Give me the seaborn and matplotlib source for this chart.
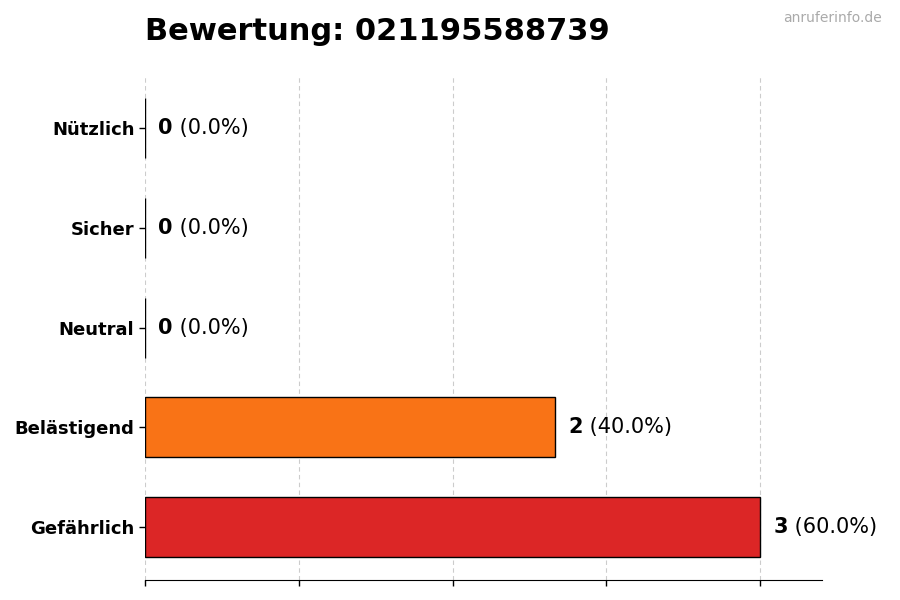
import pandas as pd
import seaborn as sns
import matplotlib.pyplot as plt

categories = ['Nützlich', 'Sicher', 'Neutral', 'Belästigend', 'Gefährlich']
counts = [0, 0, 0, 2, 3]
colors = ['#22c55e', '#3b82f6', '#9ca3af', '#f97316', '#dc2626']
title = 'Bewertung: 021195588739'

total = sum(counts)
df = pd.DataFrame({'kategorie': categories, 'anzahl': counts})

sns.set_style('ticks')
plt.rcParams['font.family'] = ['DejaVu Sans']
plt.rcParams['text.color'] = 'black'
plt.rcParams['xtick.color'] = 'black'
plt.rcParams['ytick.color'] = 'black'

fig = plt.figure(figsize=(9, 6), dpi=100)
ax = fig.add_axes([0.161, 0.033, 0.752, 0.842])

sns.barplot(data=df, x='anzahl', y='kategorie', hue='kategorie', palette=colors,
            orient='h', width=0.6, edgecolor='black', linewidth=1, legend=False,
            saturation=1, ax=ax)

xmax = max(counts) * 1.1
ax.set_xlim(0, xmax)
ax.set_ylim(len(categories) - 0.47, -0.53)
ax.set_xticks([max(counts) * i / 4 for i in range(5)])
ax.set_xticklabels([])
ax.set_xlabel('')
ax.set_ylabel('')
ax.tick_params(axis='both', length=4, width=1, color='black', labelcolor='black')
ax.tick_params(axis='y', labelsize=13)
for lbl in ax.get_yticklabels():
    lbl.set_fontweight('bold')
ax.xaxis.grid(True, linestyle=(0, (4, 3)), color='#cccccc', linewidth=0.8)
ax.set_axisbelow(True)
sns.despine(ax=ax, left=True)
ax.spines['bottom'].set_color('black')

fig.text(0.161, 0.947, title, fontsize=22, fontweight='bold', ha='left', va='center')
fig.text(0.98, 0.97, 'anruferinfo.de', fontsize=10, color='#aaaaaa', ha='right', va='center')

fig.canvas.draw()
renderer = fig.canvas.get_renderer()
off = xmax * 0.02
for i, c in enumerate(counts):
    pct = c / total * 100
    t = ax.text(c + off, i, str(c), fontsize=15, fontweight='bold', va='center', ha='left')
    bb = t.get_window_extent(renderer=renderer)
    ax.annotate(f' ({pct:.1f}%)', xy=(c + off, i), xycoords='data',
                xytext=(bb.width * 72 / fig.dpi, 0), textcoords='offset points',
                fontsize=15, va='center', ha='left')

fig.savefig('out.png', dpi=100)
